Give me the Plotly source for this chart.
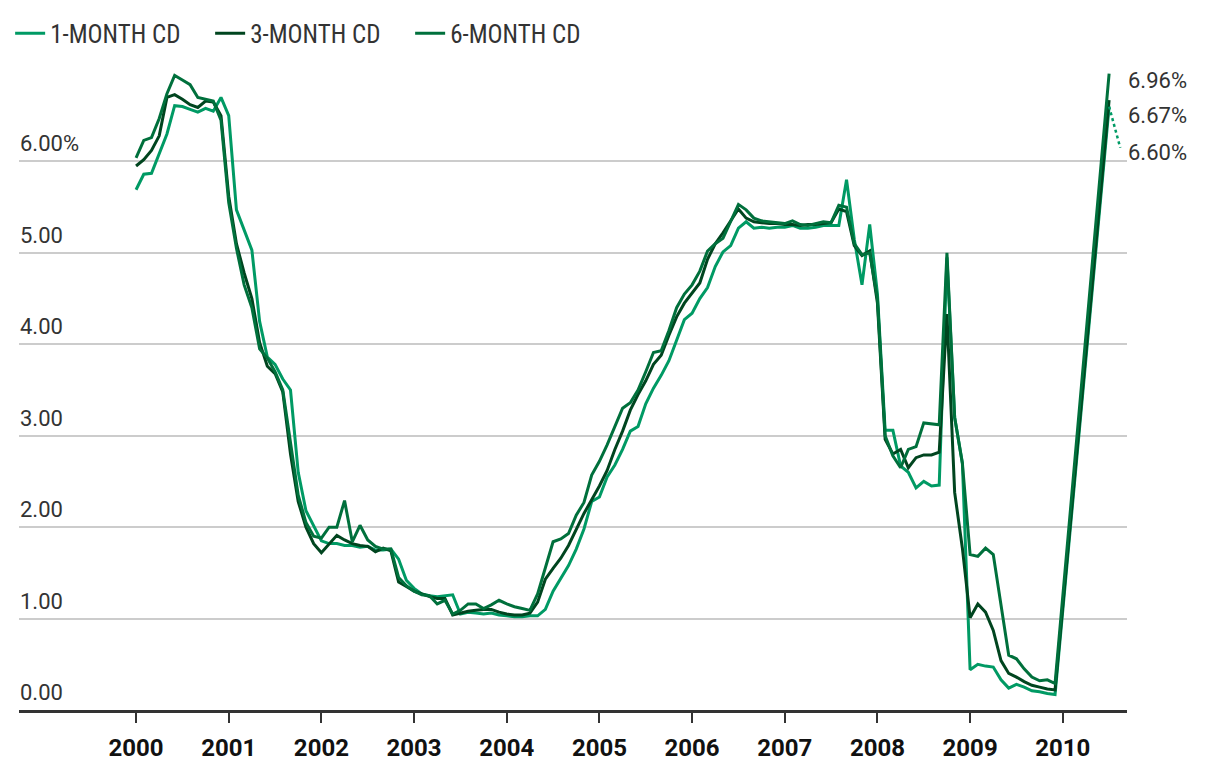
import plotly.graph_objects as go

# ---------------- data ----------------
start_year = 2000          # first month: Jan 2000, monthly through Dec 2009
latest_x = 2010.5          # latest reading (mid-2010)
year_ticks = list(range(2000, 2011))
y_ticks = [0, 1, 2, 3, 4, 5, 6]

one_month = [
    5.69, 5.86, 5.87, 6.09, 6.30, 6.61, 6.60, 6.57, 6.54, 6.58, 6.55, 6.70,
    6.50, 5.47, 5.25, 5.03, 4.25, 3.86, 3.78, 3.62, 3.50, 2.60, 2.18, 2.02,
    1.85, 1.82, 1.82, 1.80, 1.80, 1.78, 1.79, 1.75, 1.75, 1.76, 1.65, 1.42,
    1.33, 1.27, 1.25, 1.24, 1.25, 1.26, 1.05, 1.07, 1.06, 1.05, 1.06, 1.04,
    1.03, 1.02, 1.02, 1.03, 1.03, 1.10, 1.30, 1.44, 1.58, 1.76, 1.98, 2.28,
    2.33, 2.55, 2.68, 2.85, 3.05, 3.10, 3.35, 3.52, 3.66, 3.82, 4.05, 4.27,
    4.34, 4.50, 4.62, 4.85, 5.01, 5.08, 5.27, 5.34, 5.27, 5.28, 5.27, 5.28,
    5.28, 5.30, 5.27, 5.27, 5.28, 5.30, 5.30, 5.30, 5.80, 5.15, 4.65, 5.31,
    4.55, 3.06, 3.06, 2.67, 2.60, 2.43, 2.50, 2.45, 2.46, 4.95, 3.20, 2.70,
    0.44, 0.50, 0.48, 0.47, 0.33, 0.24, 0.28, 0.25, 0.21, 0.20, 0.18, 0.17,
]
three_month = [
    5.95, 6.02, 6.12, 6.28, 6.70, 6.73, 6.68, 6.62, 6.59, 6.66, 6.65, 6.50,
    5.62, 5.10, 4.78, 4.50, 4.02, 3.76, 3.68, 3.48, 2.80, 2.28, 2.00, 1.82,
    1.72, 1.82, 1.91, 1.86, 1.82, 1.80, 1.79, 1.73, 1.77, 1.74, 1.40, 1.35,
    1.30, 1.27, 1.24, 1.22, 1.22, 1.04, 1.06, 1.08, 1.09, 1.10, 1.10, 1.07,
    1.05, 1.04, 1.04, 1.06, 1.18, 1.43, 1.55, 1.66, 1.80, 1.97, 2.15, 2.30,
    2.45, 2.62, 2.85, 3.05, 3.28, 3.45, 3.60, 3.78, 3.88, 4.10, 4.30, 4.45,
    4.56, 4.67, 4.93, 5.10, 5.22, 5.35, 5.48, 5.38, 5.34, 5.33, 5.32, 5.32,
    5.31, 5.31, 5.30, 5.31, 5.31, 5.32, 5.33, 5.48, 5.45, 5.08, 4.97, 5.02,
    4.45, 2.96, 2.80, 2.85, 2.65, 2.76, 2.79, 2.79, 2.82, 4.33, 2.38, 1.77,
    1.01, 1.16, 1.07, 0.87, 0.54, 0.40, 0.36, 0.31, 0.27, 0.25, 0.23, 0.22,
]
six_month = [
    6.04, 6.23, 6.26, 6.47, 6.74, 6.94, 6.89, 6.84, 6.70, 6.68, 6.66, 6.45,
    5.55, 5.05, 4.65, 4.40, 3.95, 3.85, 3.70, 3.50, 2.95, 2.35, 2.05, 1.90,
    1.88, 2.00, 2.00, 2.29, 1.84, 2.02, 1.86, 1.79, 1.76, 1.76, 1.45, 1.36,
    1.30, 1.26, 1.25, 1.16, 1.20, 1.05, 1.09, 1.16, 1.16, 1.11, 1.15, 1.20,
    1.16, 1.13, 1.11, 1.09, 1.27, 1.55, 1.84, 1.87, 1.93, 2.13, 2.27, 2.57,
    2.72, 2.90, 3.10, 3.30, 3.36, 3.50, 3.70, 3.91, 3.93, 4.15, 4.40, 4.55,
    4.65, 4.80, 5.02, 5.10, 5.16, 5.35, 5.53, 5.47, 5.38, 5.35, 5.34, 5.33,
    5.32, 5.35, 5.31, 5.30, 5.32, 5.34, 5.33, 5.52, 5.50, 5.10, 4.98, 5.00,
    4.50, 3.00, 2.78, 2.65, 2.85, 2.88, 3.14, 3.13, 3.12, 5.00, 3.20, 2.70,
    1.70, 1.68, 1.77, 1.70, 1.15, 0.60, 0.56, 0.45, 0.36, 0.32, 0.33, 0.29,
]
latest_one = 6.60
latest_three = 6.67
latest_six = 6.96

names = ["1-MONTH CD", "3-MONTH CD", "6-MONTH CD"]
colors = ["#009a64", "#00451f", "#00703c"]

# ---------------- figure ----------------
x = [start_year + i / 12 for i in range(len(one_month))] + [latest_x]
series = [one_month + [latest_one], three_month + [latest_three], six_month + [latest_six]]

fig = go.Figure()
for name, vals, col in zip(names, series, colors):
    fig.add_trace(go.Scatter(x=x, y=vals, mode="lines", name=name,
                             line=dict(color=col, width=3), hoverinfo="skip"))

LABEL_FONT = "Roboto, 'Liberation Sans', Arial, sans-serif"
LEGEND_FONT = "'Liberation Sans Narrow', 'Roboto Condensed', Roboto, sans-serif"

annotations = []
for v in y_ticks:
    annotations.append(dict(
        x=0, xref="paper", y=v, yref="y", xanchor="left", yanchor="bottom",
        text=f"{v:.2f}" + ("%" if v == max(y_ticks) else ""), showarrow=False,
        yshift=3, xshift=-1, font=dict(family=LABEL_FONT, size=22, color="#333333")))

end_labels = [(latest_six, -7), (latest_three, -15.5), (latest_one, -45.5)]
for v, shift in end_labels:
    annotations.append(dict(
        x=1, xref="paper", y=v, yref="y", xanchor="left", yanchor="middle",
        text=f"{v:.2f}%", showarrow=False, yshift=shift, xshift=-1,
        font=dict(family=LABEL_FONT, size=22, color="#333333")))

fig.update_layout(
    width=1220, height=772,
    margin=dict(l=10, r=93, t=66, b=58),
    paper_bgcolor="white", plot_bgcolor="white",
    showlegend=True,
    legend=dict(orientation="h", x=-0.008, xanchor="left", y=1.057, yanchor="middle",
                font=dict(family=LEGEND_FONT, size=25, color="#333333"),
                itemwidth=30, entrywidth=155, entrywidthmode="pixels",
                bgcolor="rgba(0,0,0,0)", tracegroupgap=0),
    annotations=annotations,
    shapes=[dict(type="line", xref="x", yref="y", x0=latest_x, y0=latest_one,
                 x1=latest_x + 0.12, y1=latest_one - 0.45,
                 line=dict(color=colors[0], width=2.5, dash="dot"))],
    xaxis=dict(range=[1998.737, 2010.693], tickmode="array", tickvals=year_ticks,
               ticktext=[str(y) for y in year_ticks], showgrid=False, zeroline=False,
               showline=True, linecolor="#333333", linewidth=2.5,
               ticks="outside", ticklen=10, tickwidth=2, tickcolor="#333333",
               ticklabelstandoff=4,
               tickfont=dict(family=LABEL_FONT, size=24, color="#111111", weight="bold")),
    yaxis=dict(range=[0, 7.0], tickmode="array", tickvals=y_ticks, showticklabels=False,
               showgrid=True, gridcolor="#cccccc", gridwidth=2, zeroline=False,
               showline=False, ticks=""),
)

fig.write_html("out.html", config={"displayModeBar": False},
               post_script="document.body.style.margin='0px';")
